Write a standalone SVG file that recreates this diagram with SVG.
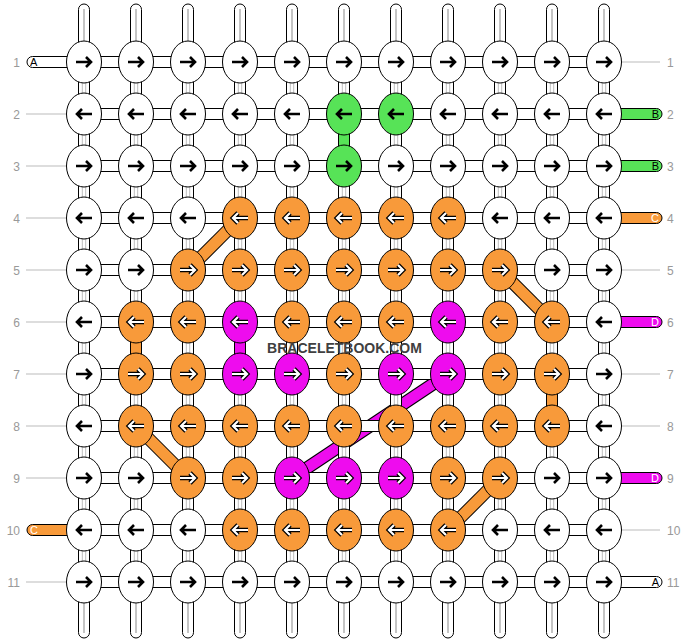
<svg xmlns="http://www.w3.org/2000/svg" xmlns:xlink="http://www.w3.org/1999/xlink" width="688" height="644" viewBox="0 0 688 644">
<style>
.w{fill:#fff}.g{fill:#57e357}.o{fill:#f89a3a}.m{fill:#ee0cee}
ellipse{stroke:#000;stroke-width:1}
.hs{fill:#fff;stroke:#000;stroke-width:1}
.vs{fill:#fff;stroke:#000;stroke-width:1}
.vc{stroke:#000;stroke-width:1}
.gl{stroke:#c4c4c4;fill:none}
.side{stroke:#bbb;stroke-width:1}
.num{font-family:"Liberation Sans",Arial,sans-serif;font-size:12px;fill:#999}
.lab{font-family:"Liberation Sans",Arial,sans-serif;font-size:11px}
.diag-b{stroke:#000;stroke-width:13;stroke-linecap:butt}
.wm{font-family:"Liberation Sans",Arial,sans-serif;font-size:14px;font-weight:bold;fill:#404040}
</style>
<defs>
<path id="ap" d="M-8,0H7M2,-5L7,0L2,5"/>
<g id="rb"><use xlink:href="#ap" href="#ap" stroke="#000" stroke-width="2.6" fill="none"/></g>
<g id="rw"><use xlink:href="#ap" href="#ap" stroke="#000" stroke-width="4.6" fill="none"/><use xlink:href="#ap" href="#ap" stroke="#fff" stroke-width="2.2" fill="none"/></g>
<g id="lb"><use xlink:href="#rb" href="#rb" transform="scale(-1,1)"/></g>
<g id="lw"><use xlink:href="#rw" href="#rw" transform="scale(-1,1)"/></g>
</defs>
<rect width="688" height="644" fill="#fff"/>
<g id="connectors">
<g id="diagonals">
<line class="diag-b" x1="188" y1="270" x2="240" y2="218"/><line stroke="#f89a3a" stroke-width="11" x1="188" y1="270" x2="240" y2="218"/>
<line class="diag-b" x1="500" y1="270" x2="552" y2="322"/><line stroke="#f89a3a" stroke-width="11" x1="500" y1="270" x2="552" y2="322"/>
<line class="diag-b" x1="136" y1="426" x2="188" y2="478"/><line stroke="#f89a3a" stroke-width="11" x1="136" y1="426" x2="188" y2="478"/>
<line class="diag-b" x1="448" y1="530" x2="500" y2="478"/><line stroke="#f89a3a" stroke-width="11" x1="448" y1="530" x2="500" y2="478"/>
<line class="diag-b" x1="292" y1="478" x2="448" y2="374"/><line stroke="#ee0cee" stroke-width="11" x1="292" y1="478" x2="448" y2="374"/>
</g>
<g id="rows">
<rect class="hs" x="84" y="56.5" width="520" height="11"/>
<rect class="hs" x="84" y="108.5" width="520" height="11"/>
<rect class="hs" x="84" y="160.5" width="520" height="11"/>
<rect class="hs" x="84" y="212.5" width="520" height="11"/>
<rect class="hs" x="84" y="264.5" width="520" height="11"/>
<rect class="hs" x="84" y="316.5" width="520" height="11"/>
<rect class="hs" x="84" y="368.5" width="520" height="11"/>
<rect class="hs" x="84" y="420.5" width="520" height="11"/>
<rect class="hs" x="84" y="472.5" width="520" height="11"/>
<rect class="hs" x="84" y="524.5" width="520" height="11"/>
<rect class="hs" x="84" y="576.5" width="520" height="11"/>
</g>
<g id="columns">
<rect class="vs" x="78.5" y="4" width="11" height="634" rx="5.5"/>
<rect class="vs" x="130.5" y="4" width="11" height="634" rx="5.5"/>
<rect class="vs" x="182.5" y="4" width="11" height="634" rx="5.5"/>
<rect class="vs" x="234.5" y="4" width="11" height="634" rx="5.5"/>
<rect class="vs" x="286.5" y="4" width="11" height="634" rx="5.5"/>
<rect class="vs" x="338.5" y="4" width="11" height="634" rx="5.5"/>
<rect class="vs" x="390.5" y="4" width="11" height="634" rx="5.5"/>
<rect class="vs" x="442.5" y="4" width="11" height="634" rx="5.5"/>
<rect class="vs" x="494.5" y="4" width="11" height="634" rx="5.5"/>
<rect class="vs" x="546.5" y="4" width="11" height="634" rx="5.5"/>
<rect class="vs" x="598.5" y="4" width="11" height="634" rx="5.5"/>
<path class="gl" stroke-width="2" d="M84,9V42M136,9V42M188,9V42M240,9V42M292,9V42M344,9V42M396,9V42M448,9V42M500,9V42M552,9V42M604,9V42M84,602V633M136,602V633M188,602V633M240,602V633M292,602V633M344,602V633M396,602V633M448,602V633M500,602V633M552,602V633M604,602V633"/>
<path class="gl" stroke-width="4.4" d="M84,42V602M136,42V602M188,42V602M240,42V602M292,42V602M344,42V602M396,42V602M448,42V602M500,42V602M552,42V602M604,42V602"/>
<path stroke="#fff" stroke-width="2.2" d="M84,42V602M136,42V602M188,42V602M240,42V602M292,42V602M344,42V602M396,42V602M448,42V602M500,42V602M552,42V602M604,42V602"/>
</g>
<g id="colored-verticals">
<rect class="vc g" x="338.5" y="130" width="11" height="20"/>
<rect class="vc o" x="130.5" y="338" width="11" height="20"/>
<rect class="vc m" x="234.5" y="338" width="11" height="20"/>
<rect class="vc o" x="546.5" y="390" width="11" height="20"/>
</g>
<g id="ends">
<rect class="hs" x="27" y="56.5" width="46" height="11" rx="5.5"/>
<rect class="vc o" x="27" y="524.5" width="46" height="11" rx="5.5"/>
<rect class="vc g" x="615" y="108.5" width="47" height="11" rx="5.5"/>
<rect class="vc g" x="615" y="160.5" width="47" height="11" rx="5.5"/>
<rect class="vc o" x="615" y="212.5" width="47" height="11" rx="5.5"/>
<rect class="vc m" x="615" y="316.5" width="47" height="11" rx="5.5"/>
<rect class="vc m" x="615" y="472.5" width="47" height="11" rx="5.5"/>
<rect class="hs" x="615" y="576.5" width="47" height="11" rx="5.5"/>
<path class="side" d="M26,114H67M26,166H67M26,218H67M26,270H67M26,322H67M26,374H67M26,426H67M26,478H67M26,582H67M621,62H660M621,270H660M621,374H660M621,426H660M621,530H660"/>
</g>
</g>
<g id="nodes">
<g id="n1-1" transform="translate(84,62)"><ellipse class="w" rx="17.5" ry="21"/><use href="#rb"/></g>
<g id="n1-2" transform="translate(136,62)"><ellipse class="w" rx="17.5" ry="21"/><use href="#rb"/></g>
<g id="n1-3" transform="translate(188,62)"><ellipse class="w" rx="17.5" ry="21"/><use href="#rb"/></g>
<g id="n1-4" transform="translate(240,62)"><ellipse class="w" rx="17.5" ry="21"/><use href="#rb"/></g>
<g id="n1-5" transform="translate(292,62)"><ellipse class="w" rx="17.5" ry="21"/><use href="#rb"/></g>
<g id="n1-6" transform="translate(344,62)"><ellipse class="w" rx="17.5" ry="21"/><use href="#rb"/></g>
<g id="n1-7" transform="translate(396,62)"><ellipse class="w" rx="17.5" ry="21"/><use href="#rb"/></g>
<g id="n1-8" transform="translate(448,62)"><ellipse class="w" rx="17.5" ry="21"/><use href="#rb"/></g>
<g id="n1-9" transform="translate(500,62)"><ellipse class="w" rx="17.5" ry="21"/><use href="#rb"/></g>
<g id="n1-10" transform="translate(552,62)"><ellipse class="w" rx="17.5" ry="21"/><use href="#rb"/></g>
<g id="n1-11" transform="translate(604,62)"><ellipse class="w" rx="17.5" ry="21"/><use href="#rb"/></g>

<g id="n2-1" transform="translate(84,114)"><ellipse class="w" rx="17.5" ry="21"/><use href="#lb"/></g>
<g id="n2-2" transform="translate(136,114)"><ellipse class="w" rx="17.5" ry="21"/><use href="#lb"/></g>
<g id="n2-3" transform="translate(188,114)"><ellipse class="w" rx="17.5" ry="21"/><use href="#lb"/></g>
<g id="n2-4" transform="translate(240,114)"><ellipse class="w" rx="17.5" ry="21"/><use href="#lb"/></g>
<g id="n2-5" transform="translate(292,114)"><ellipse class="w" rx="17.5" ry="21"/><use href="#lb"/></g>
<g id="n2-6" transform="translate(344,114)"><ellipse class="g" rx="17.5" ry="21"/><use href="#lb"/></g>
<g id="n2-7" transform="translate(396,114)"><ellipse class="g" rx="17.5" ry="21"/><use href="#lb"/></g>
<g id="n2-8" transform="translate(448,114)"><ellipse class="w" rx="17.5" ry="21"/><use href="#lb"/></g>
<g id="n2-9" transform="translate(500,114)"><ellipse class="w" rx="17.5" ry="21"/><use href="#lb"/></g>
<g id="n2-10" transform="translate(552,114)"><ellipse class="w" rx="17.5" ry="21"/><use href="#lb"/></g>
<g id="n2-11" transform="translate(604,114)"><ellipse class="w" rx="17.5" ry="21"/><use href="#lb"/></g>

<g id="n3-1" transform="translate(84,166)"><ellipse class="w" rx="17.5" ry="21"/><use href="#rb"/></g>
<g id="n3-2" transform="translate(136,166)"><ellipse class="w" rx="17.5" ry="21"/><use href="#rb"/></g>
<g id="n3-3" transform="translate(188,166)"><ellipse class="w" rx="17.5" ry="21"/><use href="#rb"/></g>
<g id="n3-4" transform="translate(240,166)"><ellipse class="w" rx="17.5" ry="21"/><use href="#rb"/></g>
<g id="n3-5" transform="translate(292,166)"><ellipse class="w" rx="17.5" ry="21"/><use href="#rb"/></g>
<g id="n3-6" transform="translate(344,166)"><ellipse class="g" rx="17.5" ry="21"/><use href="#rb"/></g>
<g id="n3-7" transform="translate(396,166)"><ellipse class="w" rx="17.5" ry="21"/><use href="#rb"/></g>
<g id="n3-8" transform="translate(448,166)"><ellipse class="w" rx="17.5" ry="21"/><use href="#rb"/></g>
<g id="n3-9" transform="translate(500,166)"><ellipse class="w" rx="17.5" ry="21"/><use href="#rb"/></g>
<g id="n3-10" transform="translate(552,166)"><ellipse class="w" rx="17.5" ry="21"/><use href="#rb"/></g>
<g id="n3-11" transform="translate(604,166)"><ellipse class="w" rx="17.5" ry="21"/><use href="#rb"/></g>

<g id="n4-1" transform="translate(84,218)"><ellipse class="w" rx="17.5" ry="21"/><use href="#lb"/></g>
<g id="n4-2" transform="translate(136,218)"><ellipse class="w" rx="17.5" ry="21"/><use href="#lb"/></g>
<g id="n4-3" transform="translate(188,218)"><ellipse class="w" rx="17.5" ry="21"/><use href="#lb"/></g>
<g id="n4-4" transform="translate(240,218)"><ellipse class="o" rx="17.5" ry="21"/><use href="#lw"/></g>
<g id="n4-5" transform="translate(292,218)"><ellipse class="o" rx="17.5" ry="21"/><use href="#lw"/></g>
<g id="n4-6" transform="translate(344,218)"><ellipse class="o" rx="17.5" ry="21"/><use href="#lw"/></g>
<g id="n4-7" transform="translate(396,218)"><ellipse class="o" rx="17.5" ry="21"/><use href="#lw"/></g>
<g id="n4-8" transform="translate(448,218)"><ellipse class="o" rx="17.5" ry="21"/><use href="#lw"/></g>
<g id="n4-9" transform="translate(500,218)"><ellipse class="w" rx="17.5" ry="21"/><use href="#lb"/></g>
<g id="n4-10" transform="translate(552,218)"><ellipse class="w" rx="17.5" ry="21"/><use href="#lb"/></g>
<g id="n4-11" transform="translate(604,218)"><ellipse class="w" rx="17.5" ry="21"/><use href="#lb"/></g>

<g id="n5-1" transform="translate(84,270)"><ellipse class="w" rx="17.5" ry="21"/><use href="#rb"/></g>
<g id="n5-2" transform="translate(136,270)"><ellipse class="w" rx="17.5" ry="21"/><use href="#rb"/></g>
<g id="n5-3" transform="translate(188,270)"><ellipse class="o" rx="17.5" ry="21"/><use href="#rw"/></g>
<g id="n5-4" transform="translate(240,270)"><ellipse class="o" rx="17.5" ry="21"/><use href="#rw"/></g>
<g id="n5-5" transform="translate(292,270)"><ellipse class="o" rx="17.5" ry="21"/><use href="#rw"/></g>
<g id="n5-6" transform="translate(344,270)"><ellipse class="o" rx="17.5" ry="21"/><use href="#rw"/></g>
<g id="n5-7" transform="translate(396,270)"><ellipse class="o" rx="17.5" ry="21"/><use href="#rw"/></g>
<g id="n5-8" transform="translate(448,270)"><ellipse class="o" rx="17.5" ry="21"/><use href="#rw"/></g>
<g id="n5-9" transform="translate(500,270)"><ellipse class="o" rx="17.5" ry="21"/><use href="#rw"/></g>
<g id="n5-10" transform="translate(552,270)"><ellipse class="w" rx="17.5" ry="21"/><use href="#rb"/></g>
<g id="n5-11" transform="translate(604,270)"><ellipse class="w" rx="17.5" ry="21"/><use href="#rb"/></g>

<g id="n6-1" transform="translate(84,322)"><ellipse class="w" rx="17.5" ry="21"/><use href="#lb"/></g>
<g id="n6-2" transform="translate(136,322)"><ellipse class="o" rx="17.5" ry="21"/><use href="#lw"/></g>
<g id="n6-3" transform="translate(188,322)"><ellipse class="o" rx="17.5" ry="21"/><use href="#lw"/></g>
<g id="n6-4" transform="translate(240,322)"><ellipse class="m" rx="17.5" ry="21"/><use href="#lw"/></g>
<g id="n6-5" transform="translate(292,322)"><ellipse class="o" rx="17.5" ry="21"/><use href="#lw"/></g>
<g id="n6-6" transform="translate(344,322)"><ellipse class="o" rx="17.5" ry="21"/><use href="#lw"/></g>
<g id="n6-7" transform="translate(396,322)"><ellipse class="o" rx="17.5" ry="21"/><use href="#lw"/></g>
<g id="n6-8" transform="translate(448,322)"><ellipse class="m" rx="17.5" ry="21"/><use href="#lw"/></g>
<g id="n6-9" transform="translate(500,322)"><ellipse class="o" rx="17.5" ry="21"/><use href="#lw"/></g>
<g id="n6-10" transform="translate(552,322)"><ellipse class="o" rx="17.5" ry="21"/><use href="#lw"/></g>
<g id="n6-11" transform="translate(604,322)"><ellipse class="w" rx="17.5" ry="21"/><use href="#lb"/></g>

<g id="n7-1" transform="translate(84,374)"><ellipse class="w" rx="17.5" ry="21"/><use href="#rb"/></g>
<g id="n7-2" transform="translate(136,374)"><ellipse class="o" rx="17.5" ry="21"/><use href="#rw"/></g>
<g id="n7-3" transform="translate(188,374)"><ellipse class="o" rx="17.5" ry="21"/><use href="#rw"/></g>
<g id="n7-4" transform="translate(240,374)"><ellipse class="m" rx="17.5" ry="21"/><use href="#rw"/></g>
<g id="n7-5" transform="translate(292,374)"><ellipse class="m" rx="17.5" ry="21"/><use href="#rw"/></g>
<g id="n7-6" transform="translate(344,374)"><ellipse class="o" rx="17.5" ry="21"/><use href="#rw"/></g>
<g id="n7-7" transform="translate(396,374)"><ellipse class="m" rx="17.5" ry="21"/><use href="#rw"/></g>
<g id="n7-8" transform="translate(448,374)"><ellipse class="m" rx="17.5" ry="21"/><use href="#rw"/></g>
<g id="n7-9" transform="translate(500,374)"><ellipse class="o" rx="17.5" ry="21"/><use href="#rw"/></g>
<g id="n7-10" transform="translate(552,374)"><ellipse class="o" rx="17.5" ry="21"/><use href="#rw"/></g>
<g id="n7-11" transform="translate(604,374)"><ellipse class="w" rx="17.5" ry="21"/><use href="#rb"/></g>

<g id="n8-1" transform="translate(84,426)"><ellipse class="w" rx="17.5" ry="21"/><use href="#lb"/></g>
<g id="n8-2" transform="translate(136,426)"><ellipse class="o" rx="17.5" ry="21"/><use href="#lw"/></g>
<g id="n8-3" transform="translate(188,426)"><ellipse class="o" rx="17.5" ry="21"/><use href="#lw"/></g>
<g id="n8-4" transform="translate(240,426)"><ellipse class="o" rx="17.5" ry="21"/><use href="#lw"/></g>
<g id="n8-5" transform="translate(292,426)"><ellipse class="o" rx="17.5" ry="21"/><use href="#lw"/></g>
<g id="n8-6" transform="translate(344,426)"><ellipse class="o" rx="17.5" ry="21"/><use href="#lw"/></g>
<g id="n8-7" transform="translate(396,426)"><ellipse class="o" rx="17.5" ry="21"/><use href="#lw"/></g>
<g id="n8-8" transform="translate(448,426)"><ellipse class="o" rx="17.5" ry="21"/><use href="#lw"/></g>
<g id="n8-9" transform="translate(500,426)"><ellipse class="o" rx="17.5" ry="21"/><use href="#lw"/></g>
<g id="n8-10" transform="translate(552,426)"><ellipse class="o" rx="17.5" ry="21"/><use href="#lw"/></g>
<g id="n8-11" transform="translate(604,426)"><ellipse class="w" rx="17.5" ry="21"/><use href="#lb"/></g>

<g id="n9-1" transform="translate(84,478)"><ellipse class="w" rx="17.5" ry="21"/><use href="#rb"/></g>
<g id="n9-2" transform="translate(136,478)"><ellipse class="w" rx="17.5" ry="21"/><use href="#rb"/></g>
<g id="n9-3" transform="translate(188,478)"><ellipse class="o" rx="17.5" ry="21"/><use href="#rw"/></g>
<g id="n9-4" transform="translate(240,478)"><ellipse class="o" rx="17.5" ry="21"/><use href="#rw"/></g>
<g id="n9-5" transform="translate(292,478)"><ellipse class="m" rx="17.5" ry="21"/><use href="#rw"/></g>
<g id="n9-6" transform="translate(344,478)"><ellipse class="m" rx="17.5" ry="21"/><use href="#rw"/></g>
<g id="n9-7" transform="translate(396,478)"><ellipse class="m" rx="17.5" ry="21"/><use href="#rw"/></g>
<g id="n9-8" transform="translate(448,478)"><ellipse class="o" rx="17.5" ry="21"/><use href="#rw"/></g>
<g id="n9-9" transform="translate(500,478)"><ellipse class="o" rx="17.5" ry="21"/><use href="#rw"/></g>
<g id="n9-10" transform="translate(552,478)"><ellipse class="w" rx="17.5" ry="21"/><use href="#rb"/></g>
<g id="n9-11" transform="translate(604,478)"><ellipse class="w" rx="17.5" ry="21"/><use href="#rb"/></g>

<g id="n10-1" transform="translate(84,530)"><ellipse class="w" rx="17.5" ry="21"/><use href="#lb"/></g>
<g id="n10-2" transform="translate(136,530)"><ellipse class="w" rx="17.5" ry="21"/><use href="#lb"/></g>
<g id="n10-3" transform="translate(188,530)"><ellipse class="w" rx="17.5" ry="21"/><use href="#lb"/></g>
<g id="n10-4" transform="translate(240,530)"><ellipse class="o" rx="17.5" ry="21"/><use href="#lw"/></g>
<g id="n10-5" transform="translate(292,530)"><ellipse class="o" rx="17.5" ry="21"/><use href="#lw"/></g>
<g id="n10-6" transform="translate(344,530)"><ellipse class="o" rx="17.5" ry="21"/><use href="#lw"/></g>
<g id="n10-7" transform="translate(396,530)"><ellipse class="o" rx="17.5" ry="21"/><use href="#lw"/></g>
<g id="n10-8" transform="translate(448,530)"><ellipse class="o" rx="17.5" ry="21"/><use href="#lw"/></g>
<g id="n10-9" transform="translate(500,530)"><ellipse class="w" rx="17.5" ry="21"/><use href="#lb"/></g>
<g id="n10-10" transform="translate(552,530)"><ellipse class="w" rx="17.5" ry="21"/><use href="#lb"/></g>
<g id="n10-11" transform="translate(604,530)"><ellipse class="w" rx="17.5" ry="21"/><use href="#lb"/></g>

<g id="n11-1" transform="translate(84,582)"><ellipse class="w" rx="17.5" ry="21"/><use href="#rb"/></g>
<g id="n11-2" transform="translate(136,582)"><ellipse class="w" rx="17.5" ry="21"/><use href="#rb"/></g>
<g id="n11-3" transform="translate(188,582)"><ellipse class="w" rx="17.5" ry="21"/><use href="#rb"/></g>
<g id="n11-4" transform="translate(240,582)"><ellipse class="w" rx="17.5" ry="21"/><use href="#rb"/></g>
<g id="n11-5" transform="translate(292,582)"><ellipse class="w" rx="17.5" ry="21"/><use href="#rb"/></g>
<g id="n11-6" transform="translate(344,582)"><ellipse class="w" rx="17.5" ry="21"/><use href="#rb"/></g>
<g id="n11-7" transform="translate(396,582)"><ellipse class="w" rx="17.5" ry="21"/><use href="#rb"/></g>
<g id="n11-8" transform="translate(448,582)"><ellipse class="w" rx="17.5" ry="21"/><use href="#rb"/></g>
<g id="n11-9" transform="translate(500,582)"><ellipse class="w" rx="17.5" ry="21"/><use href="#rb"/></g>
<g id="n11-10" transform="translate(552,582)"><ellipse class="w" rx="17.5" ry="21"/><use href="#rb"/></g>
<g id="n11-11" transform="translate(604,582)"><ellipse class="w" rx="17.5" ry="21"/><use href="#rb"/></g>
</g>
<g id="labels">
<g class="num" text-anchor="end">
<text x="20" y="66.5">1</text><text x="20" y="118.5">2</text><text x="20" y="170.5">3</text><text x="20" y="222.5">4</text><text x="20" y="274.5">5</text><text x="20" y="326.5">6</text><text x="20" y="378.5">7</text><text x="20" y="430.5">8</text><text x="20" y="482.5">9</text><text x="20" y="534.5">10</text><text x="20" y="586.5">11</text>
</g>
<g class="num">
<text x="667" y="66.5">1</text><text x="667" y="118.5">2</text><text x="667" y="170.5">3</text><text x="667" y="222.5">4</text><text x="667" y="274.5">5</text><text x="667" y="326.5">6</text><text x="667" y="378.5">7</text><text x="667" y="430.5">8</text><text x="667" y="482.5">9</text><text x="667" y="534.5">10</text><text x="667" y="586.5">11</text>
</g>
<text class="lab" x="30" y="66">A</text>
<text class="lab" x="30" y="534" fill="#fff">C</text>
<g class="lab" text-anchor="end">
<text x="659" y="118">B</text><text x="659" y="170">B</text><text x="659" y="222" fill="#fff">C</text><text x="659" y="326" fill="#fff">D</text><text x="659" y="482" fill="#fff">D</text><text x="659" y="586">A</text>
</g>
<text class="wm" x="344.5" y="353" text-anchor="middle">BRACELETBOOK.COM</text>
</g>
</svg>
